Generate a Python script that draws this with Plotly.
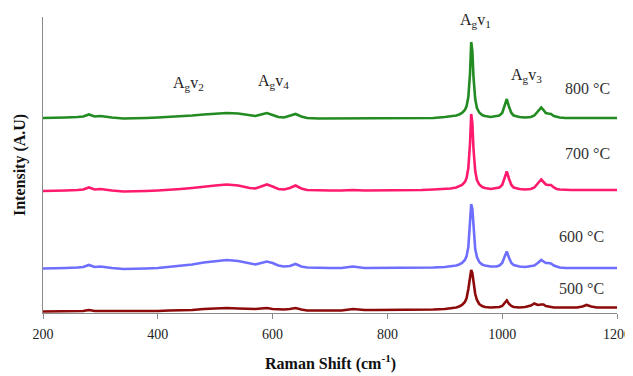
import plotly.graph_objects as go

# Raman shift (cm-1) sample positions
raman_shift = [200, 220, 240, 260, 270, 280, 290, 300, 310, 320, 340, 360, 380, 400, 420, 440, 460, 480,
               500, 520, 540, 560, 570, 580, 590, 600, 610, 620, 630, 640, 650, 660, 680, 700, 720, 740,
               760, 780, 800, 820, 840, 860, 880, 900, 910, 920, 925, 930, 935, 938, 941, 944, 946, 948,
               950, 953, 956, 960, 965, 970, 980, 990, 995, 1000, 1004, 1008, 1012, 1016, 1020, 1030,
               1040, 1050, 1056, 1062, 1068, 1072, 1076, 1080, 1085, 1090, 1095, 1100, 1110, 1120, 1130,
               1140, 1147, 1155, 1165, 1180, 1200]

# Intensities (arbitrary units, curves stacked with offsets)
int_800 = [195, 195, 195.5, 196, 196.5, 198.5, 196.5, 197, 196, 195.5, 194.5, 194.5, 195, 195.5, 196, 196.5,
           197.5, 198.5, 199, 200, 199.5, 197.5, 197, 198.5, 200, 198, 196, 195.5, 197, 199, 196.5, 195,
           194.5, 194.5, 194.5, 195, 194.5, 194.5, 194.5, 194.5, 194.5, 195, 195, 196, 196.5, 197.5, 198.5,
           200, 203, 207, 216, 240, 271, 262, 236, 214, 205, 200.5, 198, 197, 196, 196.5, 197.5, 200, 207,
           214, 206, 200, 197.5, 196, 195.5, 196, 197.5, 201, 205.5, 203, 200, 199.5, 199, 197, 196, 195.5,
           195, 195, 195, 195, 195, 195, 195, 195, 195]
int_700 = [122, 122, 122.5, 123, 123.5, 125.5, 123.5, 124, 123, 122.5, 121.5, 121.5, 122, 122.5, 123, 124,
           125, 126.5, 127.5, 128.5, 127.5, 125, 124.5, 126.5, 128.5, 126.5, 124, 123.5, 125, 127.5, 124.5,
           123, 122.5, 122.5, 122.5, 123, 122.5, 122.5, 122.5, 122.5, 122.5, 123, 123.5, 124, 124.5, 125.5,
           126.5, 128, 131, 135, 145, 170, 199, 190, 164, 142, 133, 128.5, 126, 125, 124, 124.5, 125.5, 128,
           135, 141.5, 134, 128, 125.5, 124, 123.5, 124, 125.5, 129, 133.5, 131, 128.5, 128, 128, 125.5, 124,
           123.5, 123, 123, 123, 123, 123, 123, 123, 123, 123]
int_600 = [44.5, 44.5, 45, 45.5, 46, 48, 46, 46.5, 45.5, 45, 44, 44, 44.5, 45, 46, 47, 48.5, 50.5, 52, 53,
           52, 49.5, 48.5, 50, 51.5, 50, 47.5, 46.5, 47, 49, 46.5, 45.5, 45, 45, 45, 46.5, 45, 45, 45, 45,
           45, 45, 45.5, 46, 46.5, 47.5, 48.5, 50, 53, 57, 66, 87, 109, 104, 84, 64, 56, 51, 48.5, 47.5,
           46.5, 46.5, 47.5, 50, 56, 61.5, 55, 50, 48, 46.5, 46, 46.5, 47.5, 50, 53, 51.5, 50, 50, 49.5,
           47.5, 46.5, 45.5, 45, 45, 45, 45, 45, 45, 45, 45, 45]
int_500 = [1.5, 1.5, 1.5, 2, 2, 3, 2, 2, 2, 1.5, 1.5, 1.5, 2, 2, 2.5, 2.5, 3, 4, 4.5, 5, 4.5, 4, 4, 4.5,
           5, 4, 3.5, 3.5, 4, 5, 3.5, 2.5, 2.5, 2.5, 2.5, 4, 3, 3, 3, 3, 3, 3.5, 3.5, 4, 4.5, 5.5, 6.5, 8,
           11, 15, 24, 38, 43, 40, 30, 19, 13, 9, 7, 6, 5.5, 5.5, 6, 7, 10, 12.5, 9, 7, 6, 5.5, 6, 7.5, 9.5,
           8, 8.5, 8.5, 7, 6.5, 6, 5.5, 5.5, 5.5, 5.5, 5.5, 5.5, 6.5, 8, 6.5, 5.5, 5.5, 5.5]

series_names = ["500 °C", "600 °C", "700 °C", "800 °C"]
series_values = [int_500, int_600, int_700, int_800]
series_colors = ["#8c0a0a", "#6e6eff", "#ff1a6e", "#228b22"]

# Text labels: (text, x in cm-1, y in intensity units)
peak_labels = [("A<sub>g</sub>v<sub>2</sub>", 453, 230),
               ("A<sub>g</sub>v<sub>4</sub>", 602, 232),
               ("A<sub>g</sub>v<sub>1</sub>", 953, 293),
               ("A<sub>g</sub>v<sub>3</sub>", 1043, 238)]
temp_labels = [("800 °C", 1149, 225), ("700 °C", 1149, 160), ("600 °C", 1139, 77), ("500 °C", 1139, 25)]

x_title = "<b>Raman Shift (cm<sup>-1</sup>)</b>"
y_title = "<b>Intensity (A.U)</b>"

FONT = "Liberation Serif"
fig = go.Figure()
for name, vals, col in zip(series_names, series_values, series_colors):
    fig.add_trace(go.Scatter(x=raman_shift, y=vals, mode="lines", name=name,
                             line=dict(color=col, width=2.6), showlegend=False))

for txt, x, y in peak_labels:
    fig.add_annotation(x=x, y=y, text=txt, showarrow=False,
                       font=dict(family=FONT, size=16, color="#222"))
for txt, x, y in temp_labels:
    fig.add_annotation(x=x, y=y, text=txt, showarrow=False,
                       font=dict(family=FONT, size=16, color="#333"))

fig.add_annotation(xref="paper", yref="paper", x=0.5, y=-0.166, xanchor="center", yanchor="middle",
                   text=x_title, showarrow=False, font=dict(family=FONT, size=16, color="#111"))
fig.add_annotation(xref="paper", yref="paper", x=-0.04, y=0.5, xanchor="center", yanchor="middle",
                   text=y_title, showarrow=False, textangle=-90,
                   font=dict(family=FONT, size=16, color="#111"))

# The page body adds an 8 px offset, so the figure is 8 px smaller with trimmed left/top margins
fig.update_layout(
    width=625, height=368,
    margin=dict(l=35, r=16, t=9, b=63, autoexpand=False),
    paper_bgcolor="white", plot_bgcolor="white",
    font=dict(family=FONT, color="#222"),
    xaxis=dict(range=[200, 1200], dtick=200, tick0=200, showgrid=False, zeroline=False,
               showline=True, linecolor="#8a8a8a", linewidth=1, automargin=False,
               ticks="outside", ticklen=5, tickcolor="#8a8a8a", ticklabelstandoff=3,
               ticklabeloverflow="allow",
               tickfont=dict(family=FONT, size=14, color="#222")),
    yaxis=dict(range=[0, 296], showgrid=False, zeroline=False, showticklabels=False,
               showline=True, linecolor="#8a8a8a", linewidth=1, ticks="", automargin=False),
)

fig.write_html("out.html")
